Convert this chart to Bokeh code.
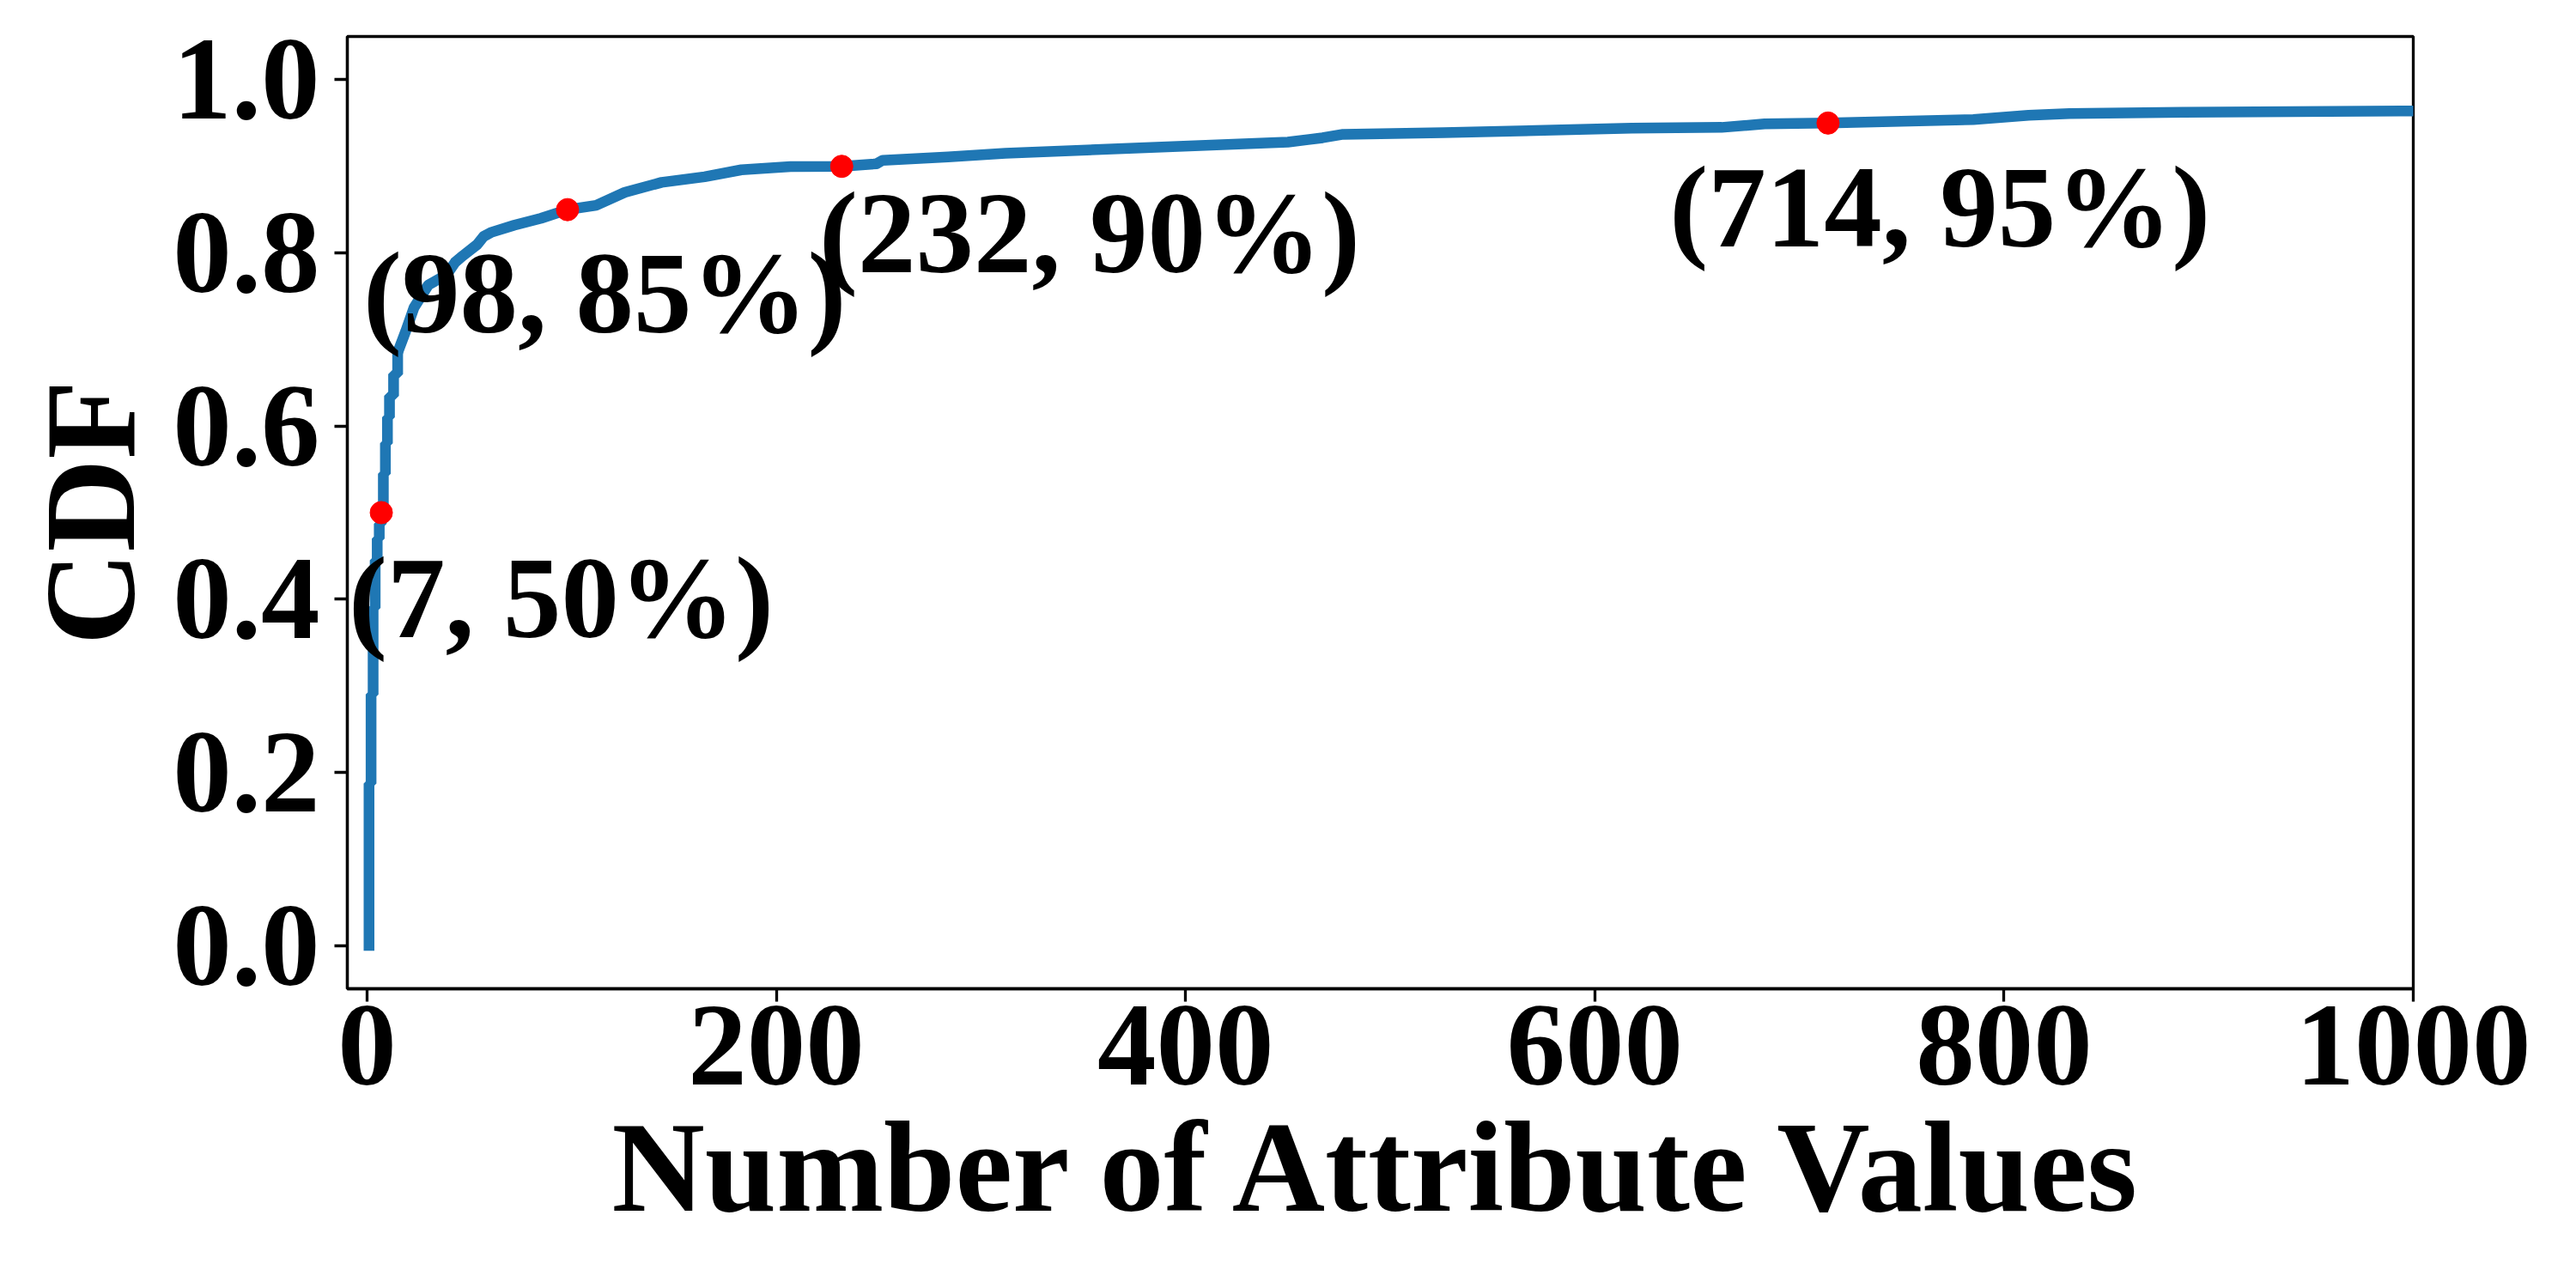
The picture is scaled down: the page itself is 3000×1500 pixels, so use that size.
from bokeh.plotting import figure
from bokeh.models import Range1d, FixedTicker, PrintfTickFormatter, ColumnDataSource
from bokeh.core.properties import value
from bokeh.embed import file_html
from bokeh.resources import INLINE

# CDF of number of attribute values
step_x = [1, 1, 2, 3, 4, 5, 6, 7, 8, 9, 10, 11, 13, 15]
step_y = [0.0, 0.187, 0.29, 0.39, 0.445, 0.47, 0.487, 0.50, 0.545, 0.58, 0.61, 0.635, 0.66, 0.685]
tail_x = [15, 19, 23, 30, 39, 43, 47, 54, 57, 61, 72, 85, 98, 112, 126, 144, 165, 183,
          207, 232, 249, 252, 284, 312, 375, 450, 467, 477, 526, 618, 662, 683, 714,
          785, 812, 832, 888, 1000, 1040]
tail_y = [0.685, 0.71, 0.737, 0.763, 0.775, 0.789, 0.797, 0.81, 0.819, 0.824, 0.832, 0.840,
          0.850, 0.855, 0.870, 0.8815, 0.888, 0.896, 0.8997, 0.900, 0.903, 0.907, 0.911,
          0.915, 0.921, 0.928, 0.933, 0.937, 0.939, 0.944, 0.945, 0.949, 0.950, 0.954,
          0.959, 0.961, 0.9625, 0.964, 0.9645]

# highlighted points
mark_x = [7, 98, 232, 714]
mark_y = [0.50, 0.85, 0.90, 0.95]
mark_labels = ["(7, 50%)", "(98, 85%)", "(232, 90%)", "(714, 95%)"]
label_x = [-9.0, -1.8, 221, 636.5]
label_y = [0.401, 0.753, 0.823, 0.853]

x_ticks = [0, 200, 400, 600, 800, 1000]
y_ticks = [0.0, 0.2, 0.4, 0.6, 0.8, 1.0]

FONT = "Liberation Serif"

W, H = 2992, 1492
p = figure(width=W, height=H, output_backend="svg", toolbar_location=None,
           x_range=Range1d(-9.6, 1000), y_range=Range1d(-0.05, 1.05),
           min_border_left=404, min_border_right=W - 2810, min_border_top=42,
           min_border_bottom=H - 1151)
p.background_fill_color = "white"
p.border_fill_color = "white"
p.outline_line_color = "black"
p.outline_line_width = 3.3
p.xgrid.visible = False
p.ygrid.visible = False

p.step(step_x, step_y, mode="after", line_color="#1f77b4", line_width=12.5, line_cap="square")
p.line(tail_x, tail_y, line_color="#1f77b4", line_width=12.5, line_join="round")
p.scatter(mark_x, mark_y, size=26, color="#ff0000", line_color="#ff0000")

src = ColumnDataSource(dict(x=label_x, y=label_y, t=mark_labels))
p.text(x="x", y="y", text="t", source=src, text_font=value(FONT), text_font_style="bold",
       text_font_size="135px", text_align="left", text_baseline="alphabetic", text_color="black")

for ax in (p.xaxis, p.yaxis):
    ax.axis_line_width = 3.3
    ax.axis_line_color = "black"
    ax.major_tick_line_width = 3.3
    ax.major_tick_out = 15
    ax.major_tick_in = 0
    ax.minor_tick_line_color = None
    ax.major_label_text_font = FONT
    ax.major_label_text_font_style = "bold"
    ax.major_label_text_font_size = "137px"
    ax.major_label_text_color = "black"
    ax.axis_label_text_font = FONT
    ax.axis_label_text_font_style = "bold"
    ax.axis_label_text_font_size = "150px"
    ax.axis_label_text_color = "black"

p.xaxis.ticker = FixedTicker(ticks=x_ticks)
p.yaxis.ticker = FixedTicker(ticks=y_ticks)
p.yaxis.formatter = PrintfTickFormatter(format="%.1f")
p.xaxis.axis_label = "Number of Attribute Values"
p.yaxis.axis_label = "CDF"
p.xaxis.major_label_standoff = 5
p.yaxis.major_label_standoff = 17
p.xaxis.axis_label_standoff = 10
p.yaxis.axis_label_standoff = 10

open("out.html", "w").write(file_html(p, INLINE))
